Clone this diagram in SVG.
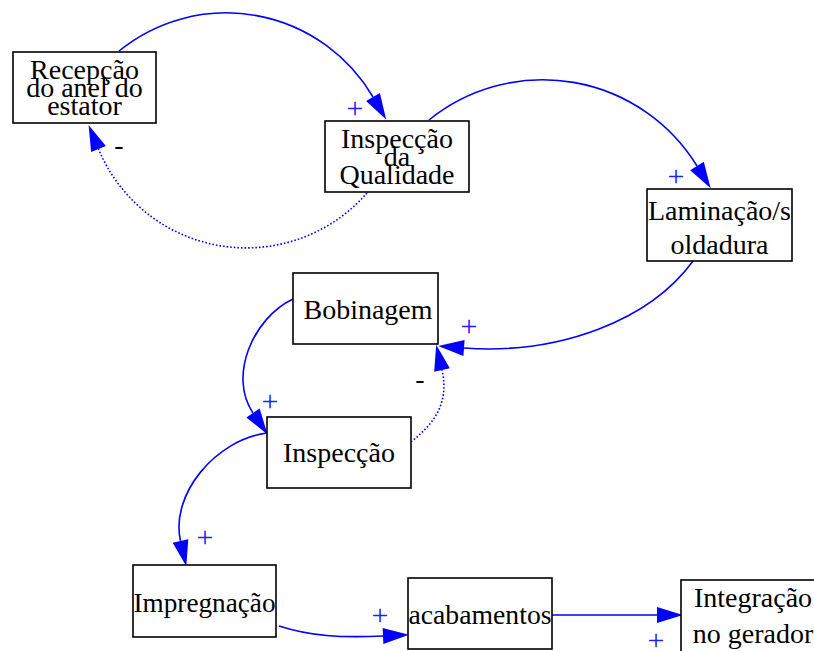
<svg xmlns="http://www.w3.org/2000/svg" width="814" height="651" viewBox="0 0 814 651">
  <style>
    .box { fill: #ffffff; stroke: #000000; stroke-width: 1.6; }
    .lbl { font-family: "Liberation Serif", "Times New Roman", serif; font-size: 28px; fill: #000000; text-anchor: middle; }
    .edge { fill: none; stroke: #0000ff; stroke-width: 1.6; }
    .neg { stroke-dasharray: 1.6 2; }
    .pol { font-family: "Liberation Serif", "Times New Roman", serif; font-size: 30px; text-anchor: middle; }
    .plus { fill: #2020ff; }
    .minus { fill: #000000; font-size: 28px; }
  </style>
  <defs>
    <marker id="arrow" markerUnits="userSpaceOnUse" markerWidth="27" markerHeight="16" refX="0" refY="8" orient="auto" overflow="visible">
      <path d="M0,0 L26,8 L0,16 Z" fill="#0000ff"/>
    </marker>
  </defs>

  <g id="connectors">
    <!-- Recepção -> Inspecção da Qualidade -->
    <path class="edge" d="M119,51 A170,170 0 0,1 373,97" marker-end="url(#arrow)"/>
    <!-- Inspecção da Qualidade -> Laminação/soldadura -->
    <path class="edge" d="M429,120 A181,181 0 0,1 697,166" marker-end="url(#arrow)"/>
    <!-- Laminação/soldadura -> Bobinagem -->
    <path class="edge" d="M693,261 C650,320 560,355 464,348" marker-end="url(#arrow)"/>
    <!-- Inspecção da Qualidade -> Recepção (negative) -->
    <path class="edge neg" d="M367,193 A160,160 0 0,1 98.5,149" marker-end="url(#arrow)"/>
    <!-- Bobinagem -> Inspecção -->
    <path class="edge" d="M293,299 C253,318 228,376 253,413" marker-end="url(#arrow)"/>
    <!-- Inspecção -> Bobinagem (negative) -->
    <path class="edge neg" d="M411,442 C432,425 450,405 442,370" marker-end="url(#arrow)"/>
    <!-- Inspecção -> Impregnação -->
    <path class="edge" d="M267,433 C215,440 170,495 180.5,541" marker-end="url(#arrow)"/>
    <!-- Impregnação -> acabamentos -->
    <path class="edge" d="M279,626 C310,636 340,638 383,636" marker-end="url(#arrow)"/>
    <!-- acabamentos -> Integração no gerador -->
    <path class="edge" d="M552,615 L657,615" marker-end="url(#arrow)"/>

    <!-- polarity labels -->
    <text class="pol plus" x="355" y="118">+</text>
    <text class="pol plus" x="676" y="186">+</text>
    <text class="pol plus" x="469" y="336">+</text>
    <text class="pol plus" x="270" y="411">+</text>
    <text class="pol plus" x="205" y="547">+</text>
    <text class="pol plus" x="380" y="625">+</text>
    <text class="pol plus" x="656" y="650">+</text>
    <text class="pol minus" x="119" y="154">-</text>
    <text class="pol minus" x="420" y="388">-</text>
  </g>

  <g id="recepcao">
    <rect class="box" x="13" y="52" width="143" height="71"/>
    <text class="lbl" x="84.5" y="79">Recepção</text>
    <text class="lbl" x="84.5" y="97">do anel do</text>
    <text class="lbl" x="84.5" y="115">estator</text>
  </g>

  <g id="inspeccao-qualidade">
    <rect class="box" x="325" y="121" width="144" height="71"/>
    <text class="lbl" x="397" y="148">Inspecção</text>
    <text class="lbl" x="397" y="166">da</text>
    <text class="lbl" x="397" y="184">Qualidade</text>
  </g>

  <g id="laminacao">
    <rect class="box" x="647" y="189" width="145" height="72"/>
    <text class="lbl" x="719.5" y="220">Laminação/s</text>
    <text class="lbl" x="719.5" y="254">oldadura</text>
  </g>

  <g id="bobinagem">
    <rect class="box" x="293" y="273" width="145" height="71"/>
    <text class="lbl" x="368" y="319">Bobinagem</text>
  </g>

  <g id="inspeccao">
    <rect class="box" x="267" y="417" width="144" height="71"/>
    <text class="lbl" x="339" y="462">Inspecção</text>
  </g>

  <g id="impregnacao">
    <rect class="box" x="133" y="565" width="143" height="72"/>
    <text class="lbl" x="204.5" y="612" textLength="142" lengthAdjust="spacingAndGlyphs">Impregnação</text>
  </g>

  <g id="acabamentos">
    <rect class="box" x="408" y="578" width="144" height="71"/>
    <text class="lbl" x="480" y="624" textLength="143" lengthAdjust="spacingAndGlyphs">acabamentos</text>
  </g>

  <g id="integracao">
    <rect class="box" x="681" y="580" width="144" height="72"/>
    <text class="lbl" x="753" y="607">Integração</text>
    <text class="lbl" x="753" y="643">no gerador</text>
  </g>
</svg>
